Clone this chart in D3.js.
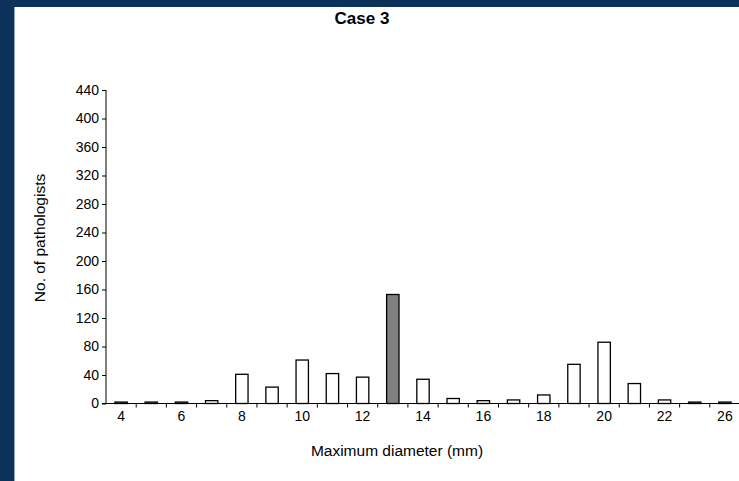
<!DOCTYPE html>
<html>
<head>
<meta charset="utf-8">
<script src="https://cdn.jsdelivr.net/npm/d3@7"></script>
<style>
  body { margin: 0; background: #0d3259; }
  svg { display: block; }
  text { font-family: "Liberation Sans", Arial, sans-serif; fill: #000; }
</style>
</head>
<body>
<script>
// diameters (mm), 24 and 25 are not in the chart
const diameters = ["4","5","6","7","8","9","10","11","12","13","14","15","16","17","18","19","20","21","22","23","26"]
const counts = [2, 2, 2, 4, 41, 23, 61, 42, 37, 153, 34, 7, 4, 5, 12, 55, 86, 28, 5, 2, 2]
const shownLabels = ["4","6","8","10","12","14","16","18","20","22","26"]
const yTicks = [0, 40, 80, 120, 160, 200, 240, 280, 320, 360, 400, 440]
const highlight = "13"

const width = 739
const height = 481

let svg = d3.select("body").append("svg")
    .attr("width", width)
    .attr("height", height)

// dark frame, white sheet
svg.append("rect").attr("x", 0).attr("y", 0).attr("width", width).attr("height", height).attr("fill", "#0d3259")
svg.append("rect").attr("x", 14).attr("y", 7).attr("width", width - 14).attr("height", height - 7).attr("fill", "#fff")
svg.append("line").attr("x1", 14.5).attr("x2", 14.5).attr("y1", 7).attr("y2", height)
    .attr("stroke", "#8fa3bb").attr("stroke-width", 1)

const plotLeft = 106, plotRight = 740, plotTop = 90, plotBottom = 403.5

let x = d3.scaleBand().domain(diameters).range([plotLeft, plotRight]).padding(0)
let y = d3.scaleLinear().domain([0, 440]).range([plotBottom, plotTop])

const barW = x.bandwidth() * 0.41

// bars
svg.append("g").selectAll("rect")
    .data(diameters.map((d, i) => ({ d: d, v: counts[i] }))).enter()
    .append("rect")
        .attr("x", d => x(d.d) + (x.bandwidth() - barW) / 2)
        .attr("y", d => y(d.v))
        .attr("width", barW)
        .attr("height", d => y(0) - y(d.v))
        .attr("fill", d => d.d === highlight ? "#808080" : "#fff")
        .attr("stroke", "#000")
        .attr("stroke-width", 1.3)

// y axis
let yAxis = svg.append("g")
    .attr("transform", "translate(" + plotLeft + ",0)")
    .call(d3.axisLeft(y).tickValues(yTicks).tickSize(4).tickPadding(3))
yAxis.select(".domain").attr("stroke", "#000").attr("d", "M0," + y(440) + "V" + y(0))
yAxis.selectAll("text").style("font-size", "14px")

// x axis: labels at category centres, ticks at category boundaries
let xAxis = svg.append("g")
    .attr("transform", "translate(0," + plotBottom + ")")
    .call(d3.axisBottom(x).tickValues(shownLabels).tickSize(0).tickPadding(8))
xAxis.select(".domain").attr("d", "M" + (plotLeft - 4) + ",0H" + plotRight).attr("stroke", "#000")
xAxis.selectAll("text").style("font-size", "14px")

svg.append("g").selectAll("line")
    .data(diameters.slice(1)).enter()
    .append("line")
        .attr("x1", d => x(d)).attr("x2", d => x(d))
        .attr("y1", plotBottom).attr("y2", plotBottom + 4)
        .attr("stroke", "#000")

// titles
svg.append("text")
    .attr("x", 362).attr("y", 24)
    .attr("text-anchor", "middle")
    .style("font-size", "17px").style("font-weight", "bold")
    .text("Case 3")

svg.append("text")
    .attr("x", 397).attr("y", 456)
    .attr("text-anchor", "middle")
    .style("font-size", "15.5px")
    .text("Maximum diameter (mm)")

svg.append("text")
    .attr("transform", "translate(45,238) rotate(-90)")
    .attr("text-anchor", "middle")
    .style("font-size", "15.5px")
    .text("No. of pathologists")
</script>
</body>
</html>
